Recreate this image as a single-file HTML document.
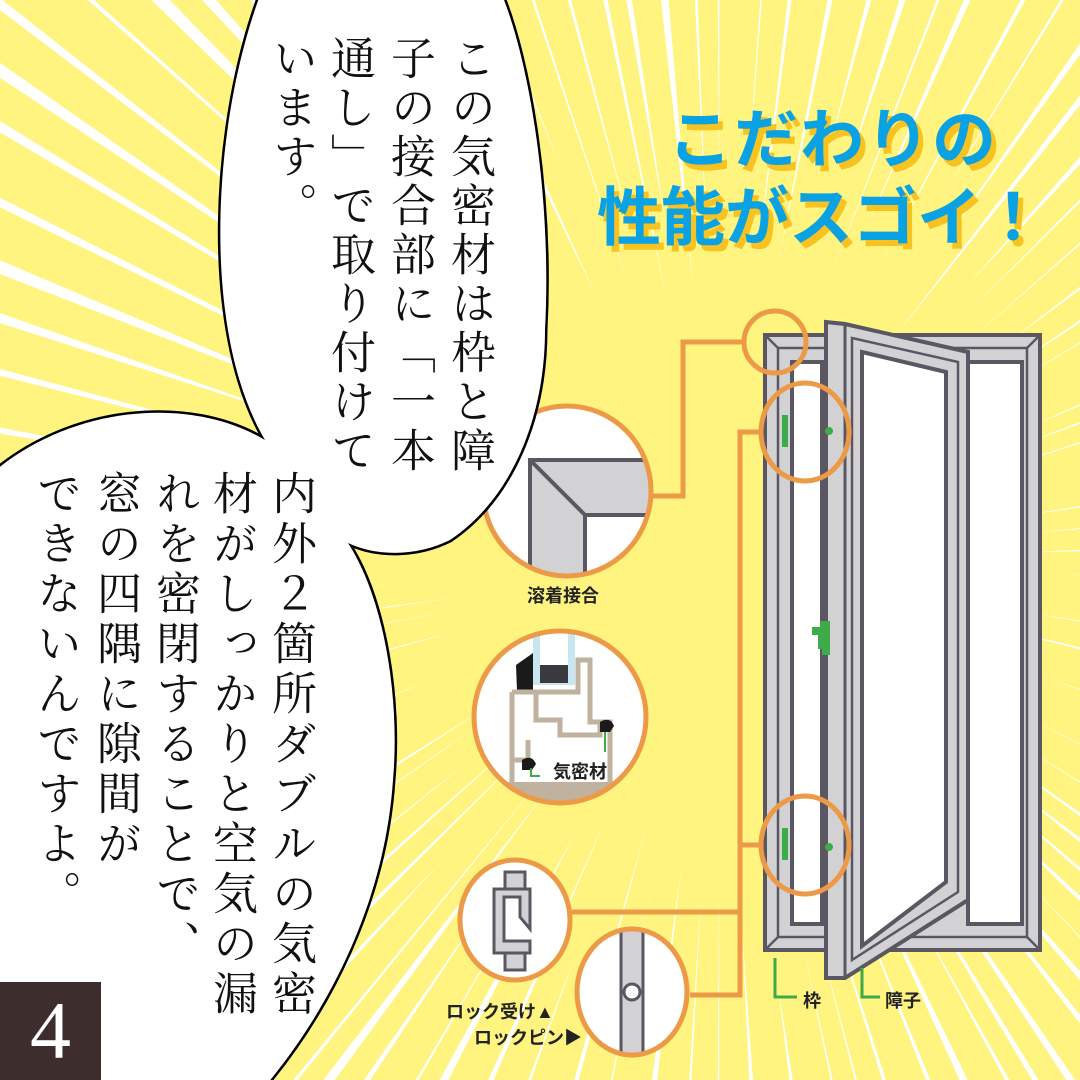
<!DOCTYPE html>
<html><head><meta charset="utf-8">
<style>
html,body{margin:0;padding:0;width:1080px;height:1080px;overflow:hidden;}
body{background:#fff47f;position:relative;font-family:"Liberation Sans","Noto Sans CJK JP",sans-serif;}
svg{position:absolute;left:0;top:0;}
.v{position:absolute;writing-mode:vertical-rl;font-family:"Liberation Serif","Noto Serif CJK SC",serif;font-size:45px;line-height:45px;color:#111;white-space:nowrap;}
.t{position:absolute;font-family:"Liberation Sans","Noto Sans CJK JP",sans-serif;font-weight:700;color:#0aa2e2;font-size:64px;line-height:64px;white-space:nowrap;text-shadow:5px 6px 0 #f8c220;}
.lb{position:absolute;font-weight:700;font-size:18px;color:#222;white-space:nowrap;font-family:"Liberation Sans","Noto Sans CJK JP",sans-serif;}
</style></head><body>
<svg width="1080" height="1080" viewBox="0 0 1080 1080">
<g id="rays" fill="#ffffff"></g>
</svg>
<script>
(function(){
 var g=document.getElementById('rays');var cx=720,cy=560;var s='';
 var seed=7;function r(){seed=(seed*9301+49297)%233280;return seed/233280;}
 for(var a=0;a<360;a+=2.2+r()*2.5){
  var rad=a*Math.PI/180;var w=0.15+r()*0.5;var r1=260+r()*180;var r2=1300;
  var a1=rad-w*Math.PI/180,a2=rad+w*Math.PI/180;
  s+='<polygon points="'+(cx+Math.cos(rad)*r1)+','+(cy+Math.sin(rad)*r1)+' '+(cx+Math.cos(a1)*r2)+','+(cy+Math.sin(a1)*r2)+' '+(cx+Math.cos(a2)*r2)+','+(cy+Math.sin(a2)*r2)+'"/>';
 }
 g.innerHTML=s;
})();
</script>
<svg width="1080" height="1080" viewBox="0 0 1080 1080">
<g fill="none" stroke="#ec9a48" stroke-width="5">
<polyline points="650,496 683,496 683,342 746,342"/>
<polyline points="762,432 740,432 740,995 690,995"/>
<line x1="740" y1="845" x2="762" y2="845"/>
<line x1="740" y1="912" x2="572" y2="912"/>
</g>
<g stroke="#5a5762" stroke-width="4" stroke-linejoin="miter">
<rect x="765" y="335" width="275" height="615" fill="#d2d2d4"/>
<rect x="778" y="348" width="249" height="589" fill="none" stroke-width="2.5"/>
<rect x="792" y="362" width="30" height="562" fill="#fff"/>
<rect x="968" y="362" width="54" height="562" fill="#fff"/>
<line x1="765" y1="335" x2="778" y2="348" stroke-width="2.5"/>
<line x1="1040" y1="335" x2="1027" y2="348" stroke-width="2.5"/>
<line x1="765" y1="950" x2="778" y2="937" stroke-width="2.5"/>
<line x1="1040" y1="950" x2="1027" y2="937" stroke-width="2.5"/>
<polygon points="826,322 845,324 968,352 968,900 845,978 826,978" fill="#d2d2d4"/>
<line x1="845" y1="324" x2="845" y2="978" stroke-width="3"/>
<polygon points="852,338 958,362 958,892 852,960" fill="none" stroke-width="2.5"/>
<polygon points="862,352 946,372 946,882 862,946" fill="#fff"/>
</g>
<g fill="#3eaa4a">
<rect x="782" y="415" width="6" height="32"/><circle cx="829" cy="431" r="4"/>
<rect x="782" y="828" width="6" height="32"/><circle cx="829" cy="847" r="4"/>
<path d="M812,627 h8 v-6 h10 v34 h-8 v-6 h-4 v-14 h-6z"/>
</g>
<g fill="none" stroke="#3eaa4a" stroke-width="3">
<polyline points="775,958 775,997 797,997"/>
<polyline points="862,968 862,997 880,997"/>
</g>
<g fill="none" stroke="#ec9a48" stroke-width="5">
<circle cx="775" cy="342" r="31"/>
<ellipse cx="805" cy="432" rx="44" ry="49"/>
<ellipse cx="805" cy="845" rx="44" ry="49"/>
</g>
<defs>
<clipPath id="ca"><ellipse cx="567" cy="491" rx="84" ry="85"/></clipPath>
<clipPath id="cb"><ellipse cx="560" cy="717" rx="86" ry="86"/></clipPath>
<clipPath id="cd"><ellipse cx="632" cy="992" rx="55" ry="63"/></clipPath>
</defs>
<ellipse cx="567" cy="491" rx="84" ry="85" fill="#fff"/>
<g clip-path="url(#ca)" stroke="#5a5762" stroke-width="4" fill="#d2d2d4">
<polygon points="530,460 660,460 660,515 585,515 585,600 530,600"/>
<line x1="530" y1="460" x2="585" y2="515"/>
</g>
<ellipse cx="567" cy="491" rx="84" ry="85" fill="none" stroke="#ec9a48" stroke-width="5"/>
<ellipse cx="560" cy="717" rx="86" ry="86" fill="#fff"/>
<g clip-path="url(#cb)">
<rect x="533" y="630" width="42" height="55" fill="#c8e6f2"/>
<rect x="540" y="630" width="28" height="50" fill="#fff"/>
<rect x="540" y="665" width="28" height="18" fill="#3a3a3e"/>
<path d="M516,665 l17,-12 v38 h-16z" fill="#1a1a1a"/>
<g fill="none" stroke="#bfb29e" stroke-width="5">
<polyline points="512,692 512,785 610,785 610,722 590,722 590,660 578,660 578,692 512,692"/>
<polyline points="536,692 536,720 560,720 560,735 600,735 600,722"/>
<polyline points="512,760 528,760 528,740"/>
</g>
<rect x="470" y="782" width="180" height="20" fill="#bfb29e"/>
<path d="M600,722 q10,-6 14,4 l-4,6 h-10z M522,760 q10,-6 14,4 l-4,6 h-10z" fill="#1a1a1a"/>
<polyline points="531,768 531,776 540,776" fill="none" stroke="#3eaa4a" stroke-width="2"/>
<line x1="605" y1="732" x2="605" y2="752" stroke="#3eaa4a" stroke-width="2"/>
</g>
<ellipse cx="560" cy="717" rx="86" ry="86" fill="none" stroke="#ec9a48" stroke-width="5"/>
<ellipse cx="515" cy="920" rx="55" ry="60" fill="#fff"/>
<g stroke="#5a5762" stroke-width="3" fill="#d2d2d4">
<rect x="505" y="872" width="20" height="18"/>
<rect x="505" y="952" width="20" height="18"/>
<path d="M494,889 h36 v40 l-10,-12 v-20 h-16 v44 h26 v12 h-36z"/>
</g>
<ellipse cx="515" cy="920" rx="55" ry="60" fill="none" stroke="#ec9a48" stroke-width="5"/>
<ellipse cx="632" cy="992" rx="55" ry="63" fill="#fff"/>
<g clip-path="url(#cd)" stroke="#5a5762" stroke-width="3" fill="#d2d2d4">
<rect x="621" y="920" width="22" height="150"/>
<circle cx="632" cy="992" r="8" fill="#fff"/>
</g>
<ellipse cx="632" cy="992" rx="55" ry="63" fill="none" stroke="#ec9a48" stroke-width="5"/>
<g stroke="#000" stroke-width="5" fill="#fff" stroke-linejoin="miter">
<path d="M-10,475 C70,405 190,395 265,440 L348,543 C385,600 400,700 393,780 C385,900 330,1010 262,1090 L-10,1090 Z"/>
<path d="M262,-10 C212,120 200,330 265,440 C290,490 320,530 348,543 C380,558 420,555 450,540 C510,500 545,420 545,330 C552,200 530,60 500,-10 Z"/>
</g>
<g fill="#fff">
<path d="M-10,475 C70,405 190,395 265,440 L348,543 C385,600 400,700 393,780 C385,900 330,1010 262,1090 L-10,1090 Z"/>
<path d="M262,-10 C212,120 200,330 265,440 C290,490 320,530 348,543 C380,558 420,555 450,540 C510,500 545,420 545,330 C552,200 530,60 500,-10 Z"/>
</g>
<rect x="0" y="982" width="101" height="98" fill="#3d2d2d"/>
</svg>
<div class="v" style="left:446px;top:35px;letter-spacing:4px;">この気密材は枠と障</div>
<div class="v" style="left:386px;top:35px;letter-spacing:4px;">子の接合部に「一本</div>
<div class="v" style="left:326px;top:35px;letter-spacing:4px;">通し」で取り付けて</div>
<div class="v" style="left:268px;top:35px;letter-spacing:4px;">います。</div>
<div class="v" style="left:267px;top:470px;letter-spacing:5px;">内外２箇所ダブルの気密</div>
<div class="v" style="left:208px;top:470px;letter-spacing:5px;">材がしっかりと空気の漏</div>
<div class="v" style="left:151px;top:470px;letter-spacing:5px;">れを密閉することで、</div>
<div class="v" style="left:92px;top:470px;letter-spacing:5px;">窓の四隅に隙間が</div>
<div class="v" style="left:32px;top:470px;letter-spacing:5px;">できないんですよ。</div>
<div style="position:absolute;left:0;top:982px;width:101px;height:98px;color:#fff;font-family:'Liberation Serif',serif;font-size:82px;line-height:98px;text-align:center;">4</div>
<div class="t" style="left:668px;top:108px;letter-spacing:2px;">こだわりの</div>
<div class="t" style="left:597px;top:186px;letter-spacing:0px;">性能がスゴイ！</div>
<div class="lb" style="left:527px;top:582px;">溶着接合</div>
<div class="lb" style="left:553px;top:758px;">気密材</div>
<div class="lb" style="left:446px;top:998px;">ロック受け▲</div>
<div class="lb" style="left:474px;top:1024px;">ロックピン▶</div>
<div class="lb" style="left:803px;top:987px;">枠</div>
<div class="lb" style="left:885px;top:987px;">障子</div>
</body></html>
